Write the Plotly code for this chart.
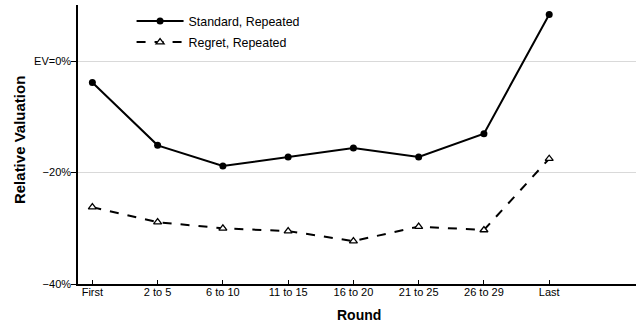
import plotly.graph_objects as go

rounds = ["First", "2 to 5", "6 to 10", "11 to 15", "16 to 20", "21 to 25", "26 to 29", "Last"]
standard_repeated = [-3.8, -15.1, -18.8, -17.2, -15.6, -17.2, -13.0, 8.4]
regret_repeated = [-26.2, -28.9, -30.0, -30.5, -32.3, -29.7, -30.3, -17.5]
y_tick_vals = [0, -20, -40]
y_tick_text = ["EV=0%", "−20%", "−40%"]

x_idx = list(range(len(rounds)))

fig = go.Figure()
fig.add_trace(go.Scatter(
    x=x_idx, y=standard_repeated, name="Standard, Repeated",
    mode="lines+markers", legendgroup="a",
    line=dict(color="black", width=2),
    marker=dict(symbol="circle", size=7, color="black"),
))
fig.add_trace(go.Scatter(
    x=x_idx, y=regret_repeated, name="Regret, Repeated",
    mode="lines+markers", legendgroup="b",
    line=dict(color="black", width=2, dash="dash"),
    marker=dict(symbol="triangle-up", size=7, color="white", line=dict(color="black", width=1.3)),
))

fig.update_layout(
    width=636, height=326,
    margin=dict(l=78, r=0, t=5, b=42, autoexpand=False),
    paper_bgcolor="white", plot_bgcolor="white",
    font=dict(family="Liberation Sans, Arial, sans-serif", color="black", size=11),
    legend=dict(x=0.096, y=0.995, xanchor="left", yanchor="top", itemwidth=47,
                bgcolor="rgba(0,0,0,0)", font=dict(size=12.4), tracegroupgap=2),
    xaxis=dict(
        range=[-0.22, 8.33], tickvals=x_idx, ticktext=rounds, automargin=False,
        showline=True, linecolor="black", linewidth=1.5,
        ticks="inside", ticklen=4, tickcolor="black", tickwidth=1,
        ticklabelstandoff=-3,
        showgrid=False, zeroline=False,
    ),
    yaxis=dict(
        range=[-40, 10.1], tickvals=y_tick_vals, ticktext=y_tick_text, automargin=False,
        showline=True, linecolor="black", linewidth=1.5,
        ticks="outside", ticklen=5, tickcolor="black", tickwidth=1,
        ticklabelstandoff=-2,
        showgrid=True, gridcolor="#d9d9d9", gridwidth=1, zeroline=False,
    ),
    annotations=[
        dict(text="<b>Round</b>", xref="paper", yref="paper", x=0.504, y=-0.111,
             xanchor="center", yanchor="middle", showarrow=False, font=dict(size=14)),
        dict(text="<b>Relative Valuation</b>", xref="paper", yref="paper", x=-0.1057, y=0.516,
             xanchor="center", yanchor="middle", textangle=-90, showarrow=False,
             font=dict(size=15)),
    ],
)

fig.write_html("out.html", config={"displayModeBar": False},
               post_script="document.body.style.margin='0';document.body.style.overflow='hidden';")
